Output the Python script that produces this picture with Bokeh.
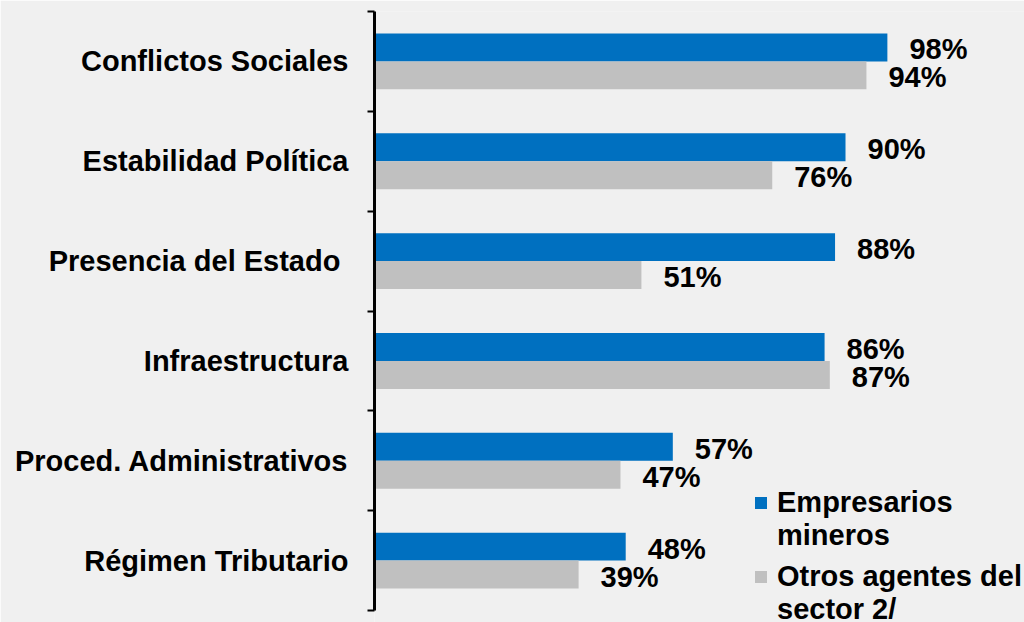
from bokeh.plotting import figure
from bokeh.models import Range1d, FixedTicker, ColumnDataSource, Legend, LegendItem
from bokeh.embed import file_html
from bokeh.resources import INLINE
from bokeh.core.properties import value

categories = ["Conflictos Sociales", "Estabilidad Política", "Presencia del Estado ",
              "Infraestructura", "Proced. Administrativos", "Régimen Tributario"]
empresarios = [98, 90, 88, 86, 57, 48]
otros = [94, 76, 51, 87, 47, 39]
series_names = [["Empresarios", "mineros"], ["Otros agentes del", "sector 2/"]]
colors = ["#0070C0", "#C0C0C0"]

n = len(categories)
centers = [n - i - 0.5 for i in range(n)]
bar_h = 0.28

src_a = ColumnDataSource(dict(y=[c + bar_h / 2 for c in centers], v=empresarios,
                              lab=[f"{v}%" for v in empresarios]))
src_b = ColumnDataSource(dict(y=[c - bar_h / 2 for c in centers], v=otros,
                              lab=[f"{v}%" for v in otros]))

BG = "#F0F0F0"
FONT = "Liberation Sans"
FS = "29px"

p = figure(width=1024, height=622, output_backend="svg", toolbar_location=None,
           x_range=Range1d(0, 124.2), y_range=Range1d(-0.12, n),
           x_axis_type=None, min_border_left=374, min_border_right=0,
           min_border_top=11, min_border_bottom=0,
           background_fill_color=BG, border_fill_color=BG, outline_line_color=None)
p.grid.visible = False

ra = p.hbar(y="y", right="v", left=0, height=bar_h, source=src_a,
            fill_color=colors[0], line_color=None)
rb = p.hbar(y="y", right="v", left=0, height=bar_h, source=src_b,
            fill_color=colors[1], line_color=None)
# empty renderer used only for the second line of each legend entry
blank = p.hbar(y=[], right=[], left=0, height=bar_h, fill_alpha=0, line_alpha=0)

for src in (src_a, src_b):
    p.text(x="v", y="y", text="lab", source=src, x_offset=22, y_offset=2,
           text_align="left", text_baseline="middle",
           text_font=value(FONT), text_font_style="bold", text_font_size=FS,
           text_color="black")

ax = p.yaxis[0]
ax.bounds = (0, n)
ax.ticker = FixedTicker(ticks=centers, minor_ticks=list(range(n + 1)))
ax.major_label_overrides = {c: lab for c, lab in zip(centers, categories)}
ax.major_tick_out = 0
ax.major_tick_in = 0
ax.minor_tick_out = 7
ax.minor_tick_in = 0
ax.minor_tick_line_width = 2
ax.minor_tick_line_color = "black"
ax.axis_line_width = 3
ax.axis_line_color = "black"
ax.major_label_standoff = 19
ax.major_label_text_font = FONT
ax.major_label_text_font_style = "bold"
ax.major_label_text_font_size = FS
ax.major_label_text_color = "black"


def make_legend(renderer, lines, loc):
    items = [LegendItem(label=lines[0], renderers=[renderer]),
             LegendItem(label=lines[1], renderers=[blank])]
    return Legend(items=items, location=loc, padding=0, margin=0, spacing=0,
                  glyph_width=15, glyph_height=15, label_standoff=9,
                  label_text_font=FONT, label_text_font_style="bold",
                  label_text_font_size=FS, label_text_color="black",
                  label_text_line_height=1.0,
                  background_fill_alpha=0, border_line_alpha=0)


p.add_layout(make_legend(ra, series_names[0], (379, 70)))
p.add_layout(make_legend(rb, series_names[1], (379, -4)))

open("out.html", "w").write(file_html(p, INLINE))
